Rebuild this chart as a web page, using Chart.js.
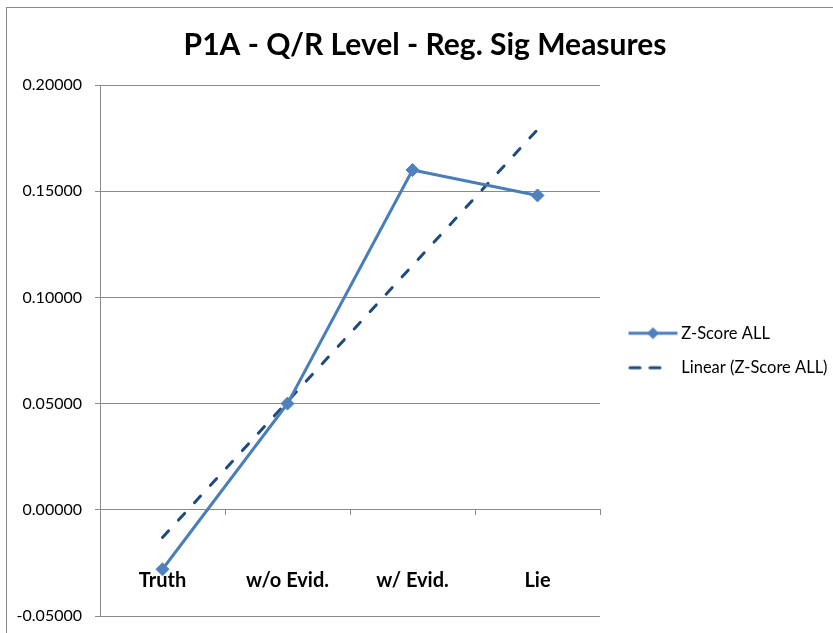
<!DOCTYPE html>
<html>
<head>
<meta charset="utf-8">
<script src="https://cdn.jsdelivr.net/npm/chart.js@4/dist/chart.umd.min.js"></script>
<style>
  html, body { margin: 0; padding: 0; background: #fff; }
  #wrap { position: relative; width: 833px; height: 633px; }
  #frame { position: absolute; left: 6px; top: 7px; right: -2px; bottom: -2px; border: 1px solid #888; }
  canvas { position: absolute; left: 0; top: 0; }
</style>
</head>
<body>
<div id="wrap">
  <div id="frame"></div>
  <canvas id="myChart" width="833" height="633"></canvas>
</div>
<script>
const categories = ['Truth', 'w/o Evid.', 'w/ Evid.', 'Lie'];
const zScoreAll = [-0.028, 0.050, 0.160, 0.148];
const linearTrend = [-0.013, 0.051, 0.115, 0.179];
const yMin = -0.05;
const yMax = 0.20;
const yStep = 0.05;

const seriesColor = '#4A7EBB';
const trendColor = '#1F4A7E';
const gridColor = '#8a8a8a';
const fontFamily = 'Lato, "Open Sans", sans-serif';

// little pictures for the legend (line + diamond, dashed line)
const legendLine = () => {
  const c = document.createElement('canvas');
  c.width = 66; c.height = 16;
  const g = c.getContext('2d');
  g.strokeStyle = seriesColor;
  g.lineWidth = 3;
  g.beginPath(); g.moveTo(16, 8); g.lineTo(65, 8); g.stroke();
  g.fillStyle = '#4F81BD';
  g.beginPath();
  g.moveTo(40.5, 2); g.lineTo(46.5, 8); g.lineTo(40.5, 14); g.lineTo(34.5, 8);
  g.closePath(); g.fill();
  return c;
};
const legendDash = () => {
  const c = document.createElement('canvas');
  c.width = 66; c.height = 16;
  const g = c.getContext('2d');
  g.strokeStyle = trendColor;
  g.lineWidth = 3;
  g.lineCap = 'round';
  g.setLineDash([10, 10]);
  g.beginPath(); g.moveTo(17.5, 8); g.lineTo(55, 8); g.stroke();
  return c;
};

// legend box is capped narrower than its text: let it run to the edge,
// and centre the title over the whole frame like Excel does
const boxTweaks = {
  id: 'boxTweaks',
  afterLayout: (chart) => {
    chart.legend.right = chart.width;
    chart.legend.width = chart.width - chart.legend.left;
    chart.titleBlock.left = 17;
    chart.titleBlock.right = chart.width;
    chart.titleBlock.width = chart.width - 17;
  },
};

var ctx = document.getElementById('myChart').getContext('2d');

new Chart(ctx, {
  type: 'line',
  data: {
    labels: categories,
    datasets: [
      {
        label: 'Z-Score ALL',
        data: zScoreAll,
        borderColor: seriesColor,
        borderWidth: 3,
        pointStyle: 'rectRot',
        pointRadius: 6.5,
        pointBackgroundColor: '#4F81BD',
        pointBorderColor: '#4F81BD',
        pointBorderWidth: 1,
        tension: 0,
      },
      {
        label: 'Linear (Z-Score ALL)',
        data: linearTrend,
        borderColor: trendColor,
        borderWidth: 3,
        borderDash: [9, 14.6],
        borderCapStyle: 'round',
        pointRadius: 0,
        tension: 0,
      },
    ],
  },
  plugins: [boxTweaks],
  options: {
    responsive: false,
    animation: false,
    layout: { padding: { left: 0, right: 33, top: 0, bottom: 17 } },
    plugins: {
      title: {
        display: true,
        text: 'P1A - Q/R Level - Reg. Sig Measures',
        color: '#000',
        font: { family: fontFamily, size: 30, weight: 'bold' },
        padding: { top: 27, bottom: 22 },
      },
      legend: {
        position: 'right',
        align: 'center',
        fullSize: false,
        labels: {
          usePointStyle: true,
          pointStyleWidth: 55,
          padding: 18,
          color: '#000',
          font: { family: fontFamily, size: 16.5 },
          generateLabels: (chart) => {
            const items = Chart.defaults.plugins.legend.labels.generateLabels(chart);
            items[0].pointStyle = legendLine();
            items[1].pointStyle = legendDash();
            return items;
          },
        },
      },
      tooltip: { enabled: false },
    },
    scales: {
      x: {
        position: { y: 0 },
        offset: true,
        grid: {
          offset: true,
          drawOnChartArea: false,
          drawTicks: true,
          tickLength: 5,
          color: gridColor,
        },
        border: { color: gridColor },
        ticks: {
          padding: 54,
          color: '#000',
          font: { family: fontFamily, size: 20, weight: 'bold' },
        },
      },
      y: {
        min: yMin,
        max: yMax,
        afterFit: (scale) => {
          scale.width = 100;
          scale.paddingTop = 0;
          scale.paddingBottom = 0;
        },
        grid: { color: gridColor, tickLength: 5 },
        border: { color: gridColor },
        ticks: {
          stepSize: yStep,
          padding: 13,
          color: '#000',
          font: { family: fontFamily, size: 16 },
          callback: (v) => v.toFixed(5),
        },
      },
    },
  },
});
</script>
</body>
</html>
